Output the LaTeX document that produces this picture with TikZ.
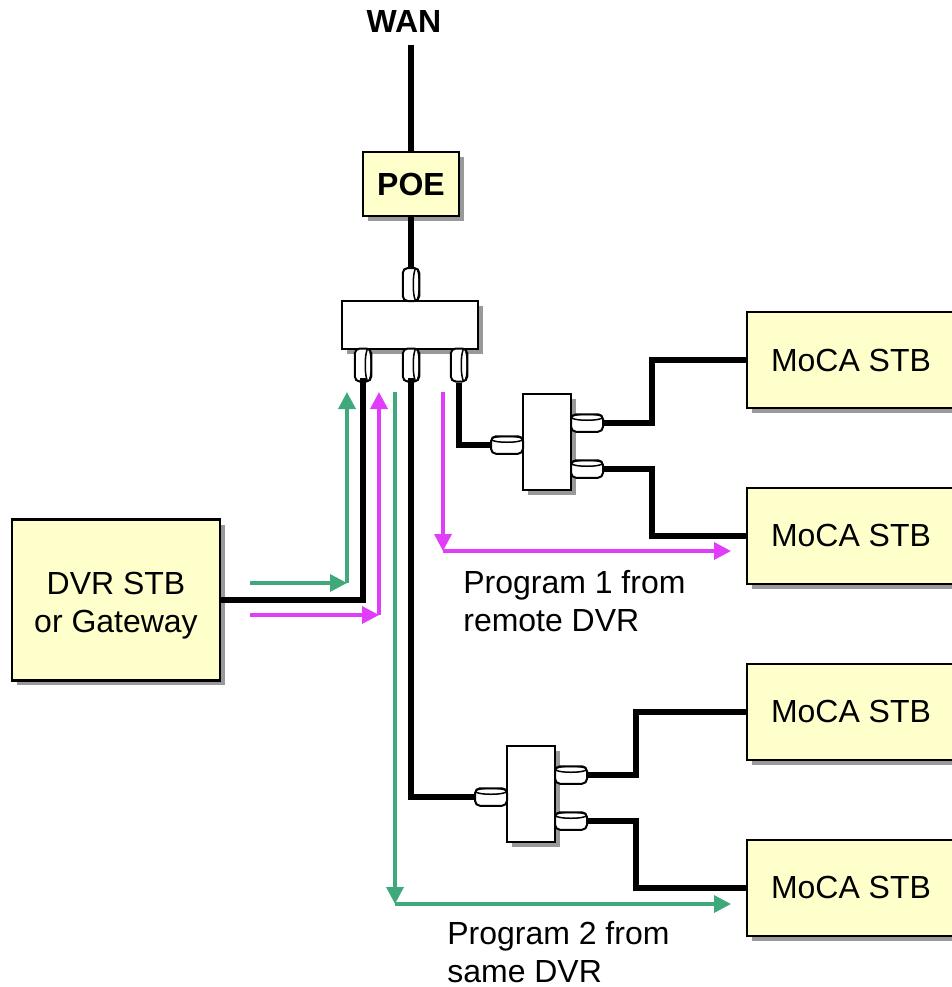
\documentclass[tikz,border=0pt]{standalone}
\usepackage{fontspec}
\setmainfont{Liberation Sans}
\usetikzlibrary{arrows.meta, positioning, shadows}
\definecolor{Cbox}{HTML}{FFFFCC}
\definecolor{Cgrn}{HTML}{3FA97C}
\definecolor{Cmag}{HTML}{E03CFA}
\definecolor{Cshd}{HTML}{999999}
\tikzset{
  shd/.style={drop shadow={shadow xshift=0.1cm, shadow yshift=-0.1cm, fill=Cshd, opacity=1}},
  stbbox/.style={draw, fill=Cbox, line width=0.05cm, inner sep=0pt, align=center, shd,
    minimum width=4.16cm, minimum height=1.92cm, font=\fontsize{18.2}{21.5}\selectfont},
  poebox/.style={draw, fill=Cbox, line width=0.05cm, inner sep=0pt, shd,
    minimum width=1.92cm, minimum height=1.28cm, font=\fontsize{18.2}{21.5}\selectfont\bfseries},
  splitbox/.style={draw, fill=white, line width=0.05cm, inner sep=0pt, shd},
  tapv/.style={draw, fill=white, line width=0.04cm, inner sep=0pt, rounded corners=0.1cm,
    minimum width=0.33cm, minimum height=0.66cm,
    path picture={\draw[line width=0.03cm] ([xshift=-0.06cm]path picture bounding box.east)
      ellipse [x radius=0.06cm, y radius=0.33cm];}},
  taph/.style={draw, fill=white, line width=0.04cm, inner sep=0pt, rounded corners=0.1cm,
    minimum width=0.64cm, minimum height=0.35cm,
    path picture={\draw[line width=0.03cm] ([yshift=-0.06cm]path picture bounding box.north)
      ellipse [x radius=0.32cm, y radius=0.06cm];}},
  wire/.style={line width=0.12cm},
  grnarr/.style={-{Triangle[length=0.34cm, width=0.34cm]}, line width=0.07cm, Cgrn},
  magarr/.style={-{Triangle[length=0.34cm, width=0.34cm]}, line width=0.07cm, Cmag},
  lbl/.style={inner sep=0pt, align=left, font=\fontsize{18.2}{21.5}\selectfont},
}

\begin{document}
\begin{tikzpicture}[x=0.02cm, y=-0.02cm]
\useasboundingbox (0,0) rectangle (951,987);

%% labels and boxes
\node[inner sep=0pt, font=\fontsize{18.2}{21.5}\selectfont\bfseries] (wan) at (404,22) {WAN};
\node[poebox] (poe) at (411,184) {POE};
\node[splitbox, minimum width=2.72cm, minimum height=0.96cm] (split) at (410,325) {};
\node[stbbox, minimum height=3.22cm] (dvr) at (116,600) {\rule{0pt}{18.8pt}DVR STB\\or Gateway};

\node[splitbox, minimum width=0.96cm, minimum height=1.92cm] (splitA) at (547,442) {};
\node[splitbox, minimum width=0.96cm, minimum height=1.92cm] (splitB) at (531,794) {};

\node[stbbox] (mocaA) at (851,360) {MoCA STB};
\node[stbbox, below=1.55cm of mocaA] (mocaB) {MoCA STB};
\node[stbbox, below=1.55cm of mocaB] (mocaC) {MoCA STB};
\node[stbbox, below=1.55cm of mocaC] (mocaD) {MoCA STB};

\node[lbl, anchor=west] (progA) at (463,601) {Program 1 from\\remote DVR};
\node[lbl, anchor=west] (progB) at (447,952) {Program 2 from\\same DVR};

%% connectors on the splitters
\node[tapv] (tapin) at (411,284.5) {};
\node[tapv] (tapa) at (363,365) {};
\node[tapv] (tapb) at (411,365) {};
\node[tapv] (tapc) at (459,365) {};
\node[taph] (tapAin) at (507,445) {};
\node[taph] (tapAa) at (587,423) {};
\node[taph] (tapAb) at (587,469) {};
\node[taph] (tapBin) at (491,797) {};
\node[taph] (tapBa) at (571,775) {};
\node[taph] (tapBb) at (571,821) {};

%% cable runs
\coordinate (enda) at (363,378);
\coordinate (endb) at (411,378);
\coordinate (wantop) at (411,45);
\draw[wire] (wantop) -- (poe.north);
\draw[wire] (poe.south) -- (tapin.north);
\draw[wire] (enda) |- (dvr.east);
\draw[wire] (endb) |- (tapBin.west);
\draw[wire] (tapc.south) |- (tapAin.west);
\draw[wire] (tapAa.east) -- ++(48,0) |- (mocaA.west);
\draw[wire] (tapAb.east) -- ++(48,0) |- (mocaB.west);
\draw[wire] (tapBa.east) -- ++(48,0) |- (mocaC.west);
\draw[wire] (tapBb.east) -- ++(48,0) |- (mocaD.west);

%% program paths
\coordinate (grnA) at (250,583);
\coordinate (grnB) at (347,583);
\coordinate (grnC) at (347,392);
\coordinate (magA) at (250,615);
\coordinate (magB) at (379,615);
\coordinate (magC) at (379,392);
\coordinate (grnD) at (395,392);
\coordinate (grnE) at (395,904);
\coordinate (grnF) at (731,904);
\coordinate (magD) at (443,392);
\coordinate (magE) at (443,551);
\coordinate (magF) at (731,551);

\draw[grnarr] (grnA) -- (grnB);
\draw[grnarr] (grnB) -- (grnC);
\draw[magarr] (magA) -- (magB);
\draw[magarr] (magB) -- (magC);
\draw[grnarr] (grnD) -- (grnE);
\draw[grnarr] (grnE) -- (grnF);
\draw[magarr] (magD) -- (magE);
\draw[magarr] (magE) -- (magF);

\end{tikzpicture}
\end{document}
